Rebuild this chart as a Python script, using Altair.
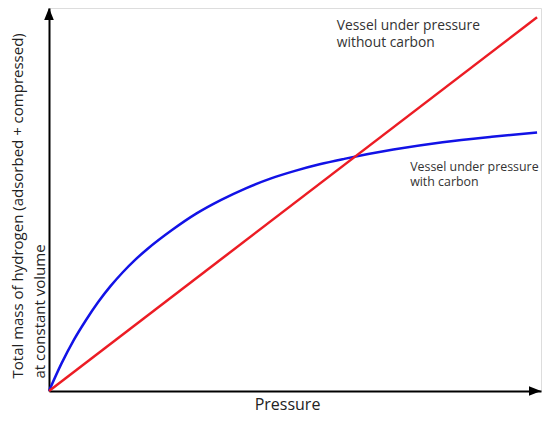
import altair as alt
import pandas as pd

# Blue curve: vessel under pressure with carbon
pressure_blue = [0, 0.25, 0.5, 0.75, 1.0, 1.25, 1.5, 1.75, 2.0, 2.5, 3.0, 3.5, 4.0, 4.5, 5.0, 5.5, 6.0, 7.0, 8.0, 9.0, 9.92]
mass_blue = [0, 0.70, 1.31, 1.83, 2.30, 2.71, 3.07, 3.39, 3.67, 4.16, 4.59, 4.94, 5.24, 5.49, 5.69, 5.86, 6.00, 6.24, 6.43, 6.57, 6.68]

# Red line: vessel under pressure without carbon
pressure_red = [0, 9.92]
mass_red = [0, 9.66]

label_red = "Vessel under pressure\nwithout carbon"
label_blue = "Vessel under pressure\nwith carbon"
label_red_at = (5.85, 9.62)
label_blue_at = (7.34, 5.95)

X_MAX = 10.0
Y_MAX = 9.9

blue_df = pd.DataFrame({"p": pressure_blue, "m": mass_blue})
red_df = pd.DataFrame({"p": pressure_red, "m": mass_red})
lab_red_df = pd.DataFrame({"t": [label_red], "x": [label_red_at[0]], "y": [label_red_at[1]]})
lab_blue_df = pd.DataFrame({"t": [label_blue], "x": [label_blue_at[0]], "y": [label_blue_at[1]]})
arrow_df = pd.DataFrame({
    "x": [0.0, X_MAX],
    "y": [Y_MAX, 0.0],
    "shape": ["M0,0L-0.4,1L0.4,1Z", "M0,0L-1,-0.4L-1,0.4Z"],
})

xs = alt.Scale(domain=[0, X_MAX], nice=False, zero=False)
ys = alt.Scale(domain=[0, Y_MAX], nice=False, zero=False)

x_axis = alt.Axis(
    title="Pressure", labels=False, ticks=False, grid=False,
    domainColor="black", domainWidth=2,
    titleFont="Open Sans", titleFontSize=16, titleFontWeight="normal",
    titleColor="#222", titleX=238, titleY=13, titleBaseline="middle",
    titleAlign="center",
)
y_axis = alt.Axis(
    title=["Total mass of hydrogen (adsorbed + compressed)", "at constant volume"],
    labels=False, ticks=False, grid=False,
    domainColor="black", domainWidth=2,
    titleFont="Open Sans", titleFontSize=15, titleFontWeight="normal",
    titleColor="#222", titleAngle=270, titleAlign="left", titleBaseline="top",
    titleX=-39, titleY=370, titleLineHeight=22,
)

red = alt.Chart(red_df).mark_line(color="#ec1c24", strokeWidth=2.5).encode(
    x=alt.X("p:Q", scale=xs, axis=x_axis),
    y=alt.Y("m:Q", scale=ys, axis=y_axis),
)
blue = alt.Chart(blue_df).mark_line(color="#1212e6", strokeWidth=2.5, interpolate="monotone").encode(
    x=alt.X("p:Q", scale=xs),
    y=alt.Y("m:Q", scale=ys),
)
lab_red = alt.Chart(lab_red_df).mark_text(
    align="left", baseline="top", font="Open Sans", fontSize=13.8,
    color="#333", lineBreak="\n", lineHeight=17,
).encode(x=alt.X("x:Q", scale=xs), y=alt.Y("y:Q", scale=ys), text="t:N")
lab_blue = alt.Chart(lab_blue_df).mark_text(
    align="left", baseline="top", font="Open Sans", fontSize=12.4,
    color="#333", lineBreak="\n", lineHeight=15,
).encode(x=alt.X("x:Q", scale=xs), y=alt.Y("y:Q", scale=ys), text="t:N")
arrows = alt.Chart(arrow_df).mark_point(filled=True, opacity=1, color="black", size=576).encode(
    x=alt.X("x:Q", scale=xs), y=alt.Y("y:Q", scale=ys),
    shape=alt.Shape("shape:N", scale=None),
)

chart = alt.layer(blue, red, lab_red, lab_blue, arrows).properties(
    width=492, height=383,
    autosize=alt.AutoSizeParams(type="none"),
    padding={"left": 41, "right": 1, "top": 0, "bottom": 22},
).configure_view(stroke=None).configure(background="white")

chart.save("out.html", embed_options={"renderer": "svg", "actions": False})
